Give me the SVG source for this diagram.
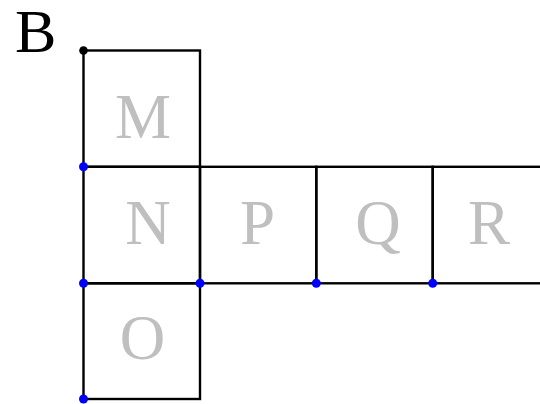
<svg xmlns="http://www.w3.org/2000/svg" width="540" height="404" viewBox="0 0 540 404">
<style>
.cell{fill:none;stroke:#000;stroke-width:2.4}
.lbl{font-family:"Liberation Serif","Times New Roman",serif;font-size:63px;fill:#bfbfbf;text-anchor:middle}
.title{font-family:"Liberation Serif","Times New Roman",serif;font-size:62px;fill:#000}
.bd{fill:#0000ff}
</style>
<rect width="540" height="404" fill="#fff"/>
<text class="title" x="15" y="52">B</text>
<g id="M"><rect class="cell" x="83.5" y="50.5" width="116.5" height="116.3"/><text class="lbl" x="143" y="137.5">M</text></g>
<g id="N"><rect class="cell" x="83.5" y="166.8" width="116.5" height="116.5"/><text class="lbl" x="148" y="244">N</text></g>
<g id="O"><rect class="cell" x="83.5" y="283.3" width="116.5" height="115.7"/><text class="lbl" x="142.5" y="359">O</text></g>
<g id="P"><rect class="cell" x="200" y="166.8" width="116.3" height="116.5"/><text class="lbl" x="257.5" y="244">P</text></g>
<g id="Q"><rect class="cell" x="316.3" y="166.8" width="116.4" height="116.5"/><text class="lbl" x="378" y="244">Q</text></g>
<g id="R"><rect class="cell" x="432.7" y="166.8" width="120" height="116.5"/><text class="lbl" x="489" y="244">R</text></g>
<g id="connectors">
<circle cx="83.5" cy="50.5" r="4.3" fill="#000"/>
<circle class="bd" cx="83.5" cy="166.8" r="4.5"/>
<circle class="bd" cx="83.5" cy="283.3" r="4.5"/>
<circle class="bd" cx="200" cy="283.3" r="4.5"/>
<circle class="bd" cx="316.3" cy="283.3" r="4.5"/>
<circle class="bd" cx="432.7" cy="283.3" r="4.5"/>
<circle class="bd" cx="83.5" cy="399" r="4.5"/>
</g>
</svg>
